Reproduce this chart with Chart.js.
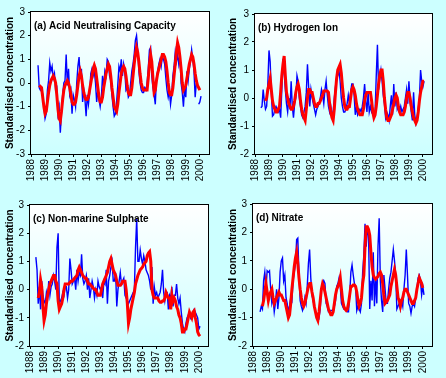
<!DOCTYPE html>
<html>
<head>
<meta charset="utf-8">
<title>Standardised concentration</title>
<script src="https://cdn.jsdelivr.net/npm/chart.js@4.4.0/dist/chart.umd.min.js"></script>
<style>
  html, body { margin: 0; padding: 0; background: #ccffff; }
  #wrap { position: relative; width: 446px; height: 378px; overflow: hidden; }
  canvas { position: absolute; }
</style>
</head>
<body>
<div id="wrap">
  <canvas id="ancChart" width="223" height="189" style="left:0;top:0"></canvas>
  <canvas id="hChart" width="223" height="189" style="left:223px;top:0"></canvas>
  <canvas id="so4Chart" width="223" height="189" style="left:0;top:189px"></canvas>
  <canvas id="no3Chart" width="223" height="189" style="left:223px;top:189px"></canvas>
</div>
<script>
'use strict';

// x axis tick labels
const yearLabels = ['1988', '1989', '1990', '1991', '1992', '1993', '1994',
                    '1995', '1996', '1997', '1998', '1999', '2000'];

// panel titles
const panelTitles = ['(a) Acid Neutralising Capacity', '(b) Hydrogen Ion',
                     '(c) Non-marine Sulphate', '(d) Nitrate'];

// monthly samples, June 1988 .. March 2000 (142 months)
// red = smoothed series, blue = measured series

// (a) Acid Neutralising Capacity
const ancSmooth = [
  null, null, -0.1, -0.15, -0.2, -0.6, -1.0,                       // 1988 Jun-Dec
  -1.3, -1.2, -0.8, -0.4, -0.1, 0.1, 0.2, 0.3, 0.2, 0.0, -0.5, -1.1, // 1989
  -1.5, -1.6, -1.2, -0.7, -0.3, -0.1, 0.0, 0.1, 0.0, -0.2, -0.5, -0.8, // 1990
  -0.9, -0.9, -0.8, -0.5, -0.1, 0.3, 0.5, 0.3, -0.1, -0.4, -0.6, -0.7, // 1991
  -0.7, -0.6, -0.3, 0.0, 0.3, 0.6, 0.75, 0.6, 0.2, -0.2, -0.6, -0.8,   // 1992
  -0.8, -0.6, -0.2, 0.1, 0.4, 0.6, 0.8, 0.7, 0.3, -0.2, -0.6, -1.0,    // 1993
  -1.1, -1.2, -0.9, -0.4, 0.0, 0.4, 0.6, 0.7, 0.6, 0.3, -0.1, -0.4,    // 1994
  -0.5, -0.5, -0.2, 0.3, 0.8, 1.2, 1.5, 1.3, 0.9, 0.4, 0.0, -0.2,      // 1995
  -0.3, -0.3, -0.3, -0.3, 0.2, 0.8, 1.2, 0.9, 0.2, -0.4, -0.3, 0.1,    // 1996
  0.4, 0.6, 0.8, 1.0, 1.2, 1.2, 1.1, 0.9, 0.5, 0.0, -0.4, -0.5,        // 1997
  -0.5, -0.2, 0.3, 0.8, 1.3, 1.7, 1.5, 1.1, 0.6, 0.0, -0.3, -0.2,      // 1998
  -0.1, 0.2, 0.5, 0.8, 1.0, 1.2, 1.1, 0.8, 0.4, 0.1, -0.1, -0.2,       // 1999
  -0.3, null, null                                                     // 2000 Jan-Mar
];
const ancMeasured = [
  null, 0.75, -0.2, -0.3, -0.2, -0.5, -1.0,
  -1.5, -1.3, -0.3, 0.1, 0.85, 0.5, 0.7, 0.2, 0.4, -0.3, -0.2, -1.3,
  -1.0, -2.1, -1.2, -0.5, 0.0, 0.1, 1.2, -0.1, 0.6, -0.5, -0.3, -1.3,
  -0.5, -0.7, -1.0, 0.0, 0.7, 1.1, 0.2, 0.6, -0.8, -0.3, -0.7, -1.4,
  -0.5, -0.9, -0.4, 0.4, 0.6, 0.3, 0.5, 0.0, -0.8, -0.3, -0.7, -1.0,
  -0.6, 0.3, -0.2, 0.5, 0.3, 1.0, 0.9, 0.3, 0.1, -0.5, -1.0, -1.4,
  -1.3, -0.8, -0.1, 0.7, 0.5, 1.0, 0.3, 0.8, 0.5, -0.3, -0.2, -0.6,
  -0.5, 0.0, 0.5, 0.8, 1.2, 1.8, 2.0, 1.4, 0.5, 0.0, -0.3, -0.4,
  -0.4, -0.2, -0.3, 0.0, 0.6, 1.4, 1.5, 0.3, -0.2, -0.5, -0.9, 0.2,
  0.5, 0.8, 1.0, 0.7, 1.1, 1.0, 0.8, 0.2, -0.3, -0.6, -0.3, -0.9,
  -0.5, 0.3, 0.7, 1.3, 0.9, 1.2, 0.8, 1.2, 0.0, -0.4, -1.0, -0.2,
  -0.6, 0.5, 0.1, 0.6, 0.9, 1.4, 1.0, 0.5, -0.6, 0.0, null, -0.9,
  -0.8, -0.55, null
];

// (b) Hydrogen Ion
const hSmooth = [
  null, null, null, null, -0.1, 0.0, 0.3,
  0.5, 0.7, 0.3, -0.1, -0.3, -0.4, -0.5, -0.5, -0.4, -0.3, 0.2, 0.8,
  1.2, 1.5, 0.8, 0.2, 0.0, -0.2, -0.3, -0.4, -0.4, -0.3, -0.1, 0.2,
  0.4, 0.5, 0.3, -0.1, -0.4, -0.6, -0.7, -0.8, -0.4, 0.0, 0.3, 0.3,
  0.2, 0.2, 0.0, -0.2, -0.3, -0.3, -0.2, -0.2, -0.1, 0.0, 0.1, 0.25,
  0.25, 0.25, 0.25, 0.2, -0.2, -0.5, -0.7, -0.8, -0.4, 0.2, 0.7, 1.0,
  1.1, 1.2, 0.9, 0.4, 0.0, -0.3, -0.4, -0.4, -0.3, -0.3, 0.0, 0.3,
  0.4, 0.3, 0.1, -0.2, -0.4, -0.5, -0.6, -0.6, -0.6, -0.4, -0.1, 0.1,
  0.2, 0.2, 0.2, 0.2, -0.1, -0.5, -0.7, -0.6, -0.3, 0.1, 0.5, 0.8,
  1.0, 1.0, 0.6, 0.0, -0.4, -0.7, -0.8, -0.8, -0.7, -0.6, -0.4, -0.2,
  0.0, 0.1, 0.0, -0.3, -0.5, -0.6, -0.6, -0.6, -0.5, -0.3, 0.0, 0.2,
  0.2, 0.0, -0.3, -0.5, -0.7, -0.8, -0.9, -0.8, -0.5, -0.1, 0.2, 0.4,
  0.6, 0.6, null
];
const hMeasured = [
  -0.35, -0.3, 0.3, -0.1, -0.4, -0.3, 0.5,
  1.7, 1.3, 0.2, -0.65, -0.6, -0.4, -0.3, -0.4, -0.5, -0.4, -0.7, 0.3,
  1.4, 0.9, 0.3, -0.2, -0.5, 0.0, -0.4, 0.6, -0.3, -0.7, -0.2, 0.0,
  0.8, 0.6, 0.0, -0.3, -0.6, -0.7, -0.5, -0.3, 0.2, 1.2, 0.4, -0.3,
  0.3, 0.0, -0.2, -0.4, -0.6, -0.4, -0.3, -0.2, 0.0, 0.3, 0.1, -0.2,
  0.3, 0.6, 0.1, -0.3, -0.5, -0.3, -0.6, -0.5, 0.0, 0.4, 0.7, 0.8,
  1.0, 0.6, 0.0, -0.3, -0.5, -0.5, -0.4, -0.2, 0.1, -0.2, 0.2, 0.5,
  0.5, 0.1, -0.6, -0.3, -0.6, -0.5, -0.4, -0.5, -0.3, 0.0, 0.5, -0.1,
  -0.5, 0.2, -0.5, -0.3, -0.5, -0.4, -0.6, -0.5, 0.8, 1.9, 0.3, 0.7,
  1.0, 0.6, 0.1, -0.2, -0.7, -0.5, -0.6, -0.8, -0.3, 0.1, -0.6, 0.5,
  -0.3, 0.2, -0.4, -0.3, -0.5, -0.3, -0.5, -0.4, -0.3, 0.0, 0.3, -0.2,
  0.6, -0.1, -0.5, -0.8, 0.2, -0.6, -0.9, -0.7, -0.4, 0.0, 1.0, 0.6,
  0.4, 0.6, null
];

// (c) Non-marine Sulphate
const so4Smooth = [
  null, null, -0.3, -0.1, 0.35, 0.1, -0.6,
  -1.1, -0.9, -0.5, -0.2, 0.0, 0.2, 0.3, 0.4, 0.5, 0.5, 0.3, 0.2,
  -0.4, -0.7, -0.6, -0.5, -0.3, 0.0, 0.2, 0.2, 0.2, 0.2, 0.25, 0.3,
  0.3, 0.35, 0.4, 0.45, 0.5, 0.7, 0.8, 0.7, 0.6, 0.5, 0.45, 0.4,
  0.4, 0.3, 0.2, 0.2, 0.15, 0.1, 0.05, 0.0, 0.0, -0.1, -0.2, -0.2,
  -0.2, 0.0, 0.2, 0.3, 0.4, 0.5, 0.6, 0.8, 1.0, 1.1, 0.9, 0.7,
  0.6, 0.5, 0.3, 0.15, 0.15, 0.15, 0.2, 0.3, 0.3, 0.3, 0.0, -0.5,
  -1.2, -1.0, -0.7, -0.5, -0.3, -0.1, 0.2, 0.35, 0.5, 0.6, 0.7, 0.75,
  0.8, 0.9, 0.95, 1.0, 1.2, 1.3, 1.35, 1.0, 0.0, -0.2, -0.3, -0.3,
  -0.3, -0.3, -0.4, -0.45, -0.45, -0.4, -0.4, -0.3, -0.1, -0.2, -0.3, -0.3,
  -0.7, -0.2, -0.4, -0.3, -0.4, -0.6, -0.7, -0.9, -1.0, -1.2, -1.5, -1.5,
  -1.4, -1.4, -1.2, -1.0, -0.8, -0.9, -1.0, -0.8, -0.75, -1.0, -1.2, -1.5,
  -1.6, -1.65, null
];
const so4Measured = [
  1.15, 0.7, -0.5, 0.1, -0.7, 0.3, -0.2,
  -0.4, -0.5, -0.1, -0.3, 0.3, -0.2, 0.1, 0.2, 0.5, 0.3, 0.0, 1.5,
  2.0, -0.5, -0.4, -0.3, -0.1, -0.2, 0.1, 0.1, -0.3, 0.0, 1.1, 0.7,
  0.2, 0.3, 0.4, 0.0, 0.7, 0.3, 0.6, 0.5, 1.25, 0.4, 0.2, 0.3,
  0.5, 0.0, 0.4, -0.3, 0.0, 0.3, 0.1, -0.3, 0.0, -0.2, 0.3, 0.1,
  0.0, 0.1, -0.3, 0.3, 0.2, 0.7, -0.5, 0.3, 0.5, 0.8, 1.0, 0.3,
  0.3, 0.6, -0.6, 0.0, 0.3, 0.6, 0.2, 0.3, 0.4, -0.2, -0.3, -0.4,
  -0.5, -0.4, -0.3, -0.2, -0.1, 0.0, 1.5, 2.5, 1.0, 1.0, 1.4, 1.1,
  0.9, 1.2, 1.0, 0.7, 0.6, 0.5, 0.3, 0.0, 0.8, -0.5, 0.1, -0.2,
  -0.1, -0.3, -0.2, -0.1, 0.2, 0.7, -0.1, -0.4, -0.1, -0.1, -0.7, -0.2,
  -0.3, 0.1, -0.6, -0.2, -0.2, 0.2, -0.3, -0.5, -0.3, -0.8, -1.2, -1.4,
  -1.5, -1.2, -1.0, -0.9, -0.8, -1.0, -0.9, -0.8, -0.7, -0.8, -0.9, -1.0,
  -1.4, -1.3, null
];

// (d) Nitrate
const no3Smooth = [
  null, null, null, -0.6, -0.4, -0.1, 0.2,
  -0.1, -0.4, -0.2, -0.1, 0.0, -0.3, -0.5, -0.4, -0.3, -0.2, -0.1, -0.2,
  -0.2, -0.3, -0.4, -0.4, -0.6, -0.8, -1.0, -0.9, -0.5, 0.0, 0.4, 0.8,
  1.1, 1.3, 0.9, 0.4, 0.0, -0.3, -0.5, -0.6, -0.5, -0.3, -0.1, 0.1,
  0.2, 0.2, -0.1, -0.3, -0.6, -0.8, -1.0, -1.1, -0.8, -0.4, 0.0, 0.2,
  0.1, -0.1, -0.3, -0.5, -0.7, -0.8, -0.9, -0.9, -0.8, -0.5, -0.2, 0.0,
  0.1, 0.2, 0.4, 0.0, -0.4, -0.6, -0.7, -0.75, -0.7, -0.5, -0.2, 0.1,
  0.1, 0.15, 0.15, 0.1, -0.1, -0.4, -0.6, -0.5, -0.3, 0.2, 0.5, 1.5,
  2.2, 2.2, 2.1, 1.9, 1.3, 0.8, 0.5, 0.4, 0.35, 0.4, 0.45, 0.55,
  0.6, 0.5, 0.2, -0.2, -0.5, -0.45, -0.4, -0.3, -0.2, 0.1, 0.3, 0.5,
  0.7, 0.5, 0.1, -0.3, -0.4, -0.6, -0.4, -0.3, -0.1, 0.0, 0.0, -0.1,
  -0.2, -0.3, -0.4, -0.5, -0.5, -0.4, -0.3, 0.0, 0.2, 0.4, 0.3, 0.2,
  0.05, null, null
];
const no3Measured = [
  null, -0.8, -0.6, -0.7, 0.3, 0.6, 0.0,
  0.65, 0.6, 0.65, 0.0, -0.5, -0.3, -0.8, -0.5, 0.0, -0.7, -0.3, 0.6,
  1.0, 1.1, 0.3, 0.5, -0.3, -0.5, -0.8, -0.6, -0.3, -0.4, 0.3, 0.6,
  0.9, 1.75, 1.8, 0.5, -0.4, -0.6, -0.75, -0.6, -0.3, -0.5, 0.1, 0.9,
  1.4, 0.4, -0.2, -0.4, -0.6, -0.8, -0.9, -0.9, -1.0, -0.7, 0.0, 0.2,
  0.3, 0.2, -0.5, -0.6, -0.8, -0.8, -0.75, -0.75, -0.8, -0.6, -0.4, 0.1,
  0.2, 0.4, 0.1, -0.5, -0.6, -0.7, -0.7, -0.75, -0.8, -0.8, -0.2, 0.6,
  0.85, 0.5, 0.2, 0.1, -0.75, -0.6, -0.7, -0.8, -0.5, 0.6, 1.2, 2.3,
  1.5, 2.1, 1.9, -0.7, 0.3, -0.4, 1.3, -0.6, 0.4, -0.5, 1.5, 2.5,
  0.3, -0.4, -0.8, 0.5, 0.0, -0.5, -0.5, 0.0, 0.4, 0.6, 1.0, 1.4,
  1.0, 0.5, -0.7, -0.6, -0.5, -0.7, -0.4, -0.6, 0.0, 0.5, 1.4, 0.5,
  -0.5, -0.6, -0.85, -0.6, -0.5, -0.6, -0.3, 0.0, 0.4, 0.5, 0.3, -0.2,
  0.1, -0.2, null
];

// decimal year of each monthly sample (x categories)
const sampleYears = ancSmooth.map(function(_, i) { return 1988 + (5 + i) / 12; });
const yearTicks = yearLabels.map(Number);

Chart.defaults.font.family = '"Liberation Sans", Arial, sans-serif';
Chart.defaults.font.size = 10;
Chart.defaults.color = '#000';

// plot area background, frame and title inside the plot
const panelFrame = {
  id: 'panelFrame',
  beforeDraw(chart) {
    const a = chart.chartArea;
    const ctx = chart.ctx;
    const g = ctx.createLinearGradient(0, a.top, 0, a.bottom);
    g.addColorStop(0, '#ffffff');
    g.addColorStop(1, '#ccffff');
    ctx.save();
    ctx.fillStyle = g;
    ctx.fillRect(a.left, a.top, a.right - a.left, a.bottom - a.top);
    ctx.restore();
  },
  afterDraw(chart, args, opts) {
    const a = chart.chartArea;
    const ctx = chart.ctx;
    ctx.save();
    ctx.strokeStyle = '#000';
    ctx.lineWidth = 1;
    ctx.strokeRect(a.left - 0.5, a.top - 0.5, a.right - a.left + 1, a.bottom - a.top + 1);
    ctx.fillStyle = '#000';
    ctx.font = 'bold 10px "Liberation Sans", Arial, sans-serif';
    ctx.textBaseline = 'top';
    ctx.fillText(opts.title, a.left + 3, a.top + 9);
    ctx.restore();
  }
};

function toPoints(values) {
  return values.map(function(v, i) { return { x: sampleYears[i], y: v }; });
}

function createPanel(canvasId, title, yMin, smooth, measured, box) {
  const canvas = document.getElementById(canvasId);
  const axisGrid = { drawOnChartArea: false, drawTicks: true, tickLength: 3, color: '#000' };

  return new Chart(canvas, {
    type: 'line',
    data: {
      datasets: [
        {
          label: 'Smoothed',
          data: toPoints(smooth),
          borderColor: '#ff0000',
          borderWidth: 3,
          pointRadius: 0,
          tension: 0,
          spanGaps: false
        },
        {
          label: 'Measured',
          data: toPoints(measured),
          borderColor: '#0000ff',
          borderWidth: 1.4,
          pointRadius: 0,
          tension: 0,
          spanGaps: false
        }
      ]
    },
    options: {
      responsive: false,
      animation: false,
      devicePixelRatio: 1,
      layout: { padding: { left: 0, top: box.top, right: 223 - box.right, bottom: 0 } },
      plugins: {
        legend: { display: false },
        tooltip: { enabled: false },
        panelFrame: { title: title }
      },
      scales: {
        x: {
          type: 'linear',
          min: 1988,
          max: 2000.65,
          afterBuildTicks: function(scale) {
            scale.ticks = yearTicks.map(function(v) { return { value: v }; });
          },
          afterFit: function(scale) { scale.height = 189 - box.bottom; },
          ticks: {
            autoSkip: false,
            maxRotation: 90,
            minRotation: 90,
            padding: 2,
            callback: function(value, index) { return yearLabels[index]; }
          },
          grid: axisGrid,
          border: { display: false }
        },
        y: {
          min: yMin,
          max: 3,
          afterFit: function(scale) { scale.width = box.left; },
          ticks: { stepSize: 1, padding: 3 },
          grid: axisGrid,
          border: { display: false },
          title: {
            display: true,
            text: 'Standardised concentration',
            font: { size: 10, weight: 'bold' },
            padding: { top: 4, bottom: 0 }
          }
        }
      }
    },
    plugins: [panelFrame]
  });
}

createPanel('ancChart', panelTitles[0], -3, ancSmooth, ancMeasured, { left: 31, top: 12, right: 209, bottom: 154 });
createPanel('hChart', panelTitles[1], -2, hSmooth, hMeasured, { left: 32, top: 14, right: 209, bottom: 154 });
createPanel('so4Chart', panelTitles[2], -2, so4Smooth, so4Measured, { left: 30, top: 16, right: 208, bottom: 157 });
createPanel('no3Chart', panelTitles[3], -2, no3Smooth, no3Measured, { left: 30, top: 15, right: 209, bottom: 157 });
</script>
</body>
</html>
